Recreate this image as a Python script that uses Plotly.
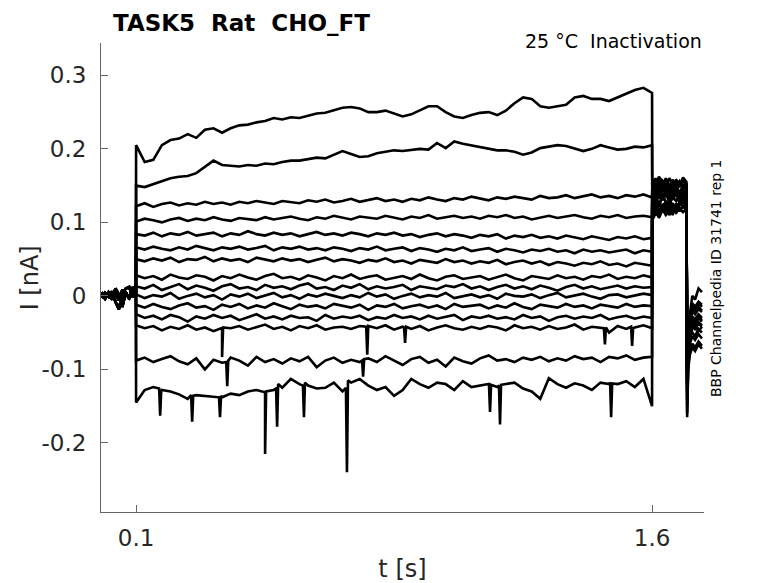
import numpy as np
import plotly.graph_objects as go

# time grids [s]
t_hold = [0.0, 0.01, 0.02, 0.03, 0.04, 0.05, 0.06, 0.07, 0.08, 0.09, 0.0995]
t_step = np.linspace(0.1, 1.6, 61)
t_after = [1.6005, 1.61, 1.62, 1.63, 1.64, 1.65, 1.66, 1.67, 1.68, 1.69, 1.70,
           1.702, 1.705, 1.71, 1.717, 1.725, 1.735, 1.745]

# holding current before the step [pA]
hold_a = [2, -4, 5, -2, 3, -6, 8, 2, -3, 6, 4]
hold_b = [-3, 4, -1, 6, -8, -18, 3, 10, 12, -2, 8]
hold_c = [5, -2, 1, -5, 10, 2, -15, 5, -4, 12, 3]

# currents during the step [pA], one list per sweep
step_a = [205, 182, 185, 205, 212, 214, 220, 215, 226, 228, 222, 228, 232, 233, 236, 238, 242, 240, 243, 242,
          245, 248, 249, 252, 256, 257, 255, 250, 250, 252, 248, 244, 247, 252, 258, 258, 250, 244, 242, 246,
          249, 250, 246, 252, 262, 270, 268, 258, 256, 258, 260, 270, 272, 268, 268, 265, 270, 274, 280, 283, 276]
step_b = [150, 148, 152, 155, 160, 162, 163, 167, 175, 184, 178, 177, 176, 178, 177, 180, 179, 182, 184, 184,
          186, 188, 187, 192, 197, 193, 189, 190, 194, 196, 198, 197, 198, 200, 199, 208, 201, 210, 207, 205,
          203, 200, 198, 198, 196, 192, 195, 201, 203, 205, 204, 200, 197, 200, 205, 202, 199, 200, 203, 202, 205]
step_c = [122, 126, 121, 125, 127, 123, 126, 124, 128, 125, 127, 124, 128, 126, 129, 127, 125, 129, 128, 126,
          130, 128, 131, 127, 129, 132, 128, 130, 133, 129, 131, 128, 132, 130, 134, 131, 129, 133, 131, 135,
          132, 130, 134, 132, 135, 133, 131, 136, 133, 134, 137, 133, 135, 138, 134, 136, 133, 137, 135, 138, 134]
step_d = [101, 105, 103, 100, 104, 106, 102, 105, 103, 107, 104, 102, 106, 105, 103, 107, 104, 106, 108, 105,
          103, 107, 105, 109, 106, 104, 108, 106, 105, 109, 107, 104, 108, 106, 110, 105, 107, 109, 106, 108,
          105, 109, 107, 110, 106, 108, 104, 107, 109, 106, 108, 110, 107, 105, 109, 107, 110, 106, 108, 109, 107]
step_e = [84, 82, 86, 81, 85, 83, 87, 82, 84, 86, 81, 85, 83, 88, 84, 82, 86, 83, 85, 81,
          84, 87, 83, 85, 82, 86, 84, 81, 85, 83, 86, 82, 84, 80, 83, 85, 81, 84, 82, 79,
          83, 81, 84, 78, 82, 80, 83, 79, 81, 78, 82, 80, 77, 81, 79, 76, 80, 78, 81, 77, 79]
step_f = [66, 63, 67, 64, 62, 66, 63, 68, 65, 62, 66, 64, 67, 63, 65, 68, 62, 66, 64, 67,
          63, 65, 62, 66, 64, 61, 65, 63, 67, 62, 64, 66, 61, 65, 63, 60, 64, 62, 66, 61,
          63, 65, 60, 64, 62, 59, 63, 61, 64, 60, 62, 58, 63, 60, 62, 59, 61, 63, 58, 62, 60]
step_g = [50, 47, 51, 48, 52, 46, 50, 49, 53, 47, 51, 48, 50, 46, 52, 49, 47, 51, 48, 50,
          46, 49, 52, 47, 50, 48, 45, 49, 47, 51, 46, 48, 44, 49, 47, 45, 50, 46, 48, 44,
          47, 45, 49, 43, 46, 48, 44, 47, 42, 46, 44, 41, 45, 43, 47, 42, 44, 40, 45, 43, 41]
step_h = [28, 24, 27, 22, 29, 25, 23, 28, 26, 21, 27, 24, 29, 25, 22, 27, 30, 24, 26, 22,
          28, 25, 21, 27, 24, 29, 23, 26, 28, 22, 25, 27, 23, 29, 24, 21, 26, 28, 23, 25,
          27, 22, 26, 29, 24, 21, 27, 25, 23, 28, 24, 26, 22, 27, 25, 29, 23, 26, 24, 28, 25]
step_i = [13, 10, 15, 8, 12, 16, 9, 14, 11, 7, 13, 16, 10, 12, 8, 15, 11, 13, 9, 14,
          17, 10, 12, 8, 14, 11, 16, 9, 13, 10, 12, 15, 8, 13, 11, 9, 14, 12, 16, 10,
          13, 8, 12, 15, 10, 13, 9, 14, 11, 7, 12, 15, 10, 13, 9, 12, 14, 10, 13, 11, 12]
step_j = [2, -3, 1, -1, 4, -4, 0, 3, -2, 1, -5, 2, -1, 3, -3, 0, 4, -2, 1, -4,
          2, -1, 3, 0, -3, 1, -2, 4, -1, 2, -4, 0, 3, -2, 1, -1, 4, -3, 0, 2,
          -2, 1, -4, 3, 0, -1, 2, -3, 1, 4, -2, 0, 3, -1, -4, 1, 2, -2, 0, 3, 1]
step_k = [-12, -16, -11, -15, -18, -13, -10, -16, -14, -19, -12, -15, -11, -17, -13, -16, -10, -14, -18, -12,
          -15, -13, -17, -11, -14, -16, -12, -19, -13, -15, -11, -17, -14, -12, -16, -13, -18, -11, -15, -14,
          -12, -17, -13, -16, -10, -15, -18, -12, -14, -16, -11, -15, -13, -17, -12, -14, -16, -11, -15, -13, -14]
step_l = [-25, -30, -27, -32, -26, -29, -35, -28, -31, -26, -30, -27, -33, -29, -25, -31, -28, -32, -27, -30,
          -29, -34, -26, -31, -28, -30, -27, -33, -29, -31, -26, -30, -28, -32, -27, -31, -29, -26, -33, -28,
          -30, -27, -31, -29, -32, -26, -30, -28, -34, -29, -27, -31, -28, -30, -26, -32, -29, -27, -31, -28, -30]
step_m = [-40, -44, -41, -47, -42, -45, -40, -46, -43, -48, -44, -44, -41, -46, -43, -39, -45, -42, -47, -41,
          -44, -40, -46, -43, -42, -45, -41, -42, -44, -40, -46, -42, -45, -41, -47, -43, -40, -44, -46, -42,
          -45, -41, -43, -47, -40, -44, -42, -46, -41, -45, -43, -39, -46, -42, -44, -50, -41, -45, -43, -40, -44]
step_n = [-88, -84, -90, -86, -82, -89, -93, -85, -100, -87, -91, -84, -88, -95, -83, -90, -86, -92, -85, -89,
          -83, -97, -88, -84, -91, -87, -90, -85, -90, -82, -88, -94, -86, -83, -91, -87, -96, -84, -89, -92,
          -85, -81, -88, -86, -90, -84, -87, -83, -89, -85, -88, -82, -86, -84, -90, -83, -85, -81, -87, -84, -83]
step_o = [-145, -128, -124, -128, -130, -134, -140, -135, -136, -138, -138, -133, -135, -130, -128, -131, -128, -125, -113, -120,
          -122, -126, -125, -118, -130, -118, -113, -122, -128, -124, -136, -128, -113, -120, -125, -118, -120, -128, -116, -124,
          -122, -120, -124, -120, -118, -126, -130, -140, -112, -120, -125, -119, -122, -128, -118, -120, -120, -116, -124, -113, -150]

# short downward spikes during the step: times [s] and currents [pA]
spike_t_m = [0.347, 0.35, 0.353, 0.769, 0.772, 0.775, 0.879, 0.882, 0.885, 1.46, 1.463, 1.466, 1.539, 1.542, 1.545]
spike_i_m = [-44, -83, -43, -42, -80, -41, -43, -64, -42, -44, -66, -43, -42, -68, -44]
spike_t_n = [0.362, 0.365, 0.368, 0.757, 0.76, 0.763]
spike_i_n = [-90, -123, -88, -88, -110, -86]
spike_t_o = [0.167, 0.17, 0.173, 0.26, 0.263, 0.266, 0.341, 0.344, 0.347, 0.472, 0.475, 0.478,
             0.507, 0.51, 0.513, 0.585, 0.588, 0.591, 0.71, 0.713, 0.716, 1.126, 1.129, 1.132,
             1.155, 1.158, 1.161, 1.478, 1.481, 1.484]
spike_i_o = [-126, -163, -130, -135, -171, -136, -138, -165, -136, -131, -215, -130,
             -126, -178, -120, -122, -165, -118, -125, -240, -115, -122, -158, -121,
             -122, -175, -121, -118, -165, -119]

# tail after the step and the return to holding [pA]
after_a = [158, 150, 162, 154, 148, 160, 152, 157, 149, 161, 155, -165, -92, -60, -45, -40, -48, -42]
after_b = [150, 160, 146, 157, 152, 144, 158, 150, 156, 147, 153, -140, -82, -50, -30, -35, -28, -33]
after_c = [140, 133, 146, 136, 142, 131, 145, 138, 134, 143, 137, -120, -72, -40, -20, -25, -18, -22]
after_d = [128, 138, 124, 135, 140, 127, 133, 141, 126, 136, 131, -110, -62, -30, -10, -15, -8, -12]
after_e = [106, 118, 112, 124, 115, 121, 110, 126, 118, 122, 116, -100, -55, -25, 0, -5, 10, 5]
after_f = [120, 128, 115, 125, 118, 130, 122, 116, 127, 121, 124, -95, -50, -30, -15, -20, -10, -15]
after_g = [103, 112, 108, 118, 110, 115, 121, 113, 119, 114, 118, -90, -60, -45, -35, -40, -30, -35]
after_h = [112, 120, 106, 117, 124, 110, 118, 125, 115, 122, 119, -88, -65, -55, -50, -55, -45, -50]
after_i = [145, 138, 152, 141, 148, 136, 150, 143, 139, 151, 146, -130, -75, -55, -40, -45, -38, -42]
after_j = [135, 128, 141, 130, 137, 144, 131, 139, 134, 128, 138, -115, -66, -45, -28, -32, -25, -30]
after_k = [126, 133, 121, 137, 128, 124, 135, 129, 138, 125, 132, -105, -60, -35, -20, -24, -15, -20]
after_l = [116, 125, 111, 122, 128, 119, 126, 113, 124, 130, 121, -100, -70, -50, -40, -44, -36, -40]
after_m = [138, 146, 132, 149, 140, 153, 136, 148, 142, 135, 147, -125, -85, -65, -55, -60, -52, -58]
after_n = [155, 145, 157, 148, 160, 151, 146, 158, 150, 156, 152, -150, -95, -75, -65, -70, -62, -68]
after_o = [142, 151, 138, 155, 144, 149, 157, 140, 153, 145, 150, -160, -100, -80, -70, -75, -66, -72]

sweeps = [
    (hold_a, step_a, after_a, [], []), (hold_b, step_b, after_b, [], []),
    (hold_c, step_c, after_c, [], []), (hold_a, step_d, after_d, [], []),
    (hold_b, step_e, after_e, [], []), (hold_c, step_f, after_f, [], []),
    (hold_a, step_g, after_g, [], []), (hold_b, step_h, after_h, [], []),
    (hold_c, step_i, after_i, [], []), (hold_a, step_j, after_j, [], []),
    (hold_b, step_k, after_k, [], []), (hold_c, step_l, after_l, [], []),
    (hold_a, step_m, after_m, spike_t_m, spike_i_m),
    (hold_b, step_n, after_n, spike_t_n, spike_i_n),
    (hold_c, step_o, after_o, spike_t_o, spike_i_o),
]

fig = go.Figure()
for hold, step, after, sp_t, sp_i in sweeps:
    t = np.concatenate([t_hold, t_step, sp_t, t_after])
    i_pa = np.concatenate([hold, step, sp_i, after])
    order = np.argsort(t, kind='stable')
    fig.add_trace(go.Scatter(x=t[order], y=i_pa[order] / 1000.0, mode='lines',
                             line=dict(color='black', width=2.6),
                             showlegend=False, hoverinfo='skip'))

# the page body adds an 8 px offset, so the figure is a bit smaller
axis_color = '#666666'
fig.update_layout(
    width=770, height=575,
    margin=dict(l=93, r=74, t=35, b=71, autoexpand=False),
    paper_bgcolor='white', plot_bgcolor='white',
    font=dict(family='DejaVu Sans', color='#262626'),
    xaxis=dict(range=[-0.002, 1.751], tickvals=[0.1, 1.6], ticktext=['0.1', '1.6'],
               ticks='inside', ticklen=7, tickcolor=axis_color, automargin=False,
               ticklabelstandoff=5,
               showline=True, linecolor=axis_color, linewidth=1,
               showgrid=False, zeroline=False, tickfont=dict(size=23),
               title=dict(text='t [s]', font=dict(size=24), standoff=10)),
    yaxis=dict(range=[-0.294, 0.344], tickvals=[-0.2, -0.1, 0, 0.1, 0.2, 0.3],
               ticktext=['-0.2', '-0.1', '0', '0.1', '0.2', '0.3'],
               ticks='inside', ticklen=7, tickcolor=axis_color, automargin=False,
               ticklabelstandoff=9,
               showline=True, linecolor=axis_color, linewidth=1,
               showgrid=False, zeroline=False, tickfont=dict(size=23)),
)

fig.add_annotation(text='I [nA]', xref='paper', yref='paper',
                   x=-0.118, y=0.5, xanchor='center', yanchor='middle', showarrow=False,
                   textangle=-90, font=dict(size=24, color='#262626'))
fig.add_annotation(text='<b>TASK5\u00a0 Rat\u00a0 CHO_FT</b>', xref='paper', yref='paper',
                   x=0.019, y=1.0426, xanchor='left', yanchor='middle', showarrow=False,
                   borderpad=0, font=dict(size=23, color='black'))
fig.add_annotation(text='25 °C\u00a0 Inactivation', xref='paper', yref='paper',
                   x=1.0, y=1.004, xanchor='right', yanchor='middle', showarrow=False,
                   font=dict(size=19, color='black'))
fig.add_annotation(text='BBP Channelpedia ID 31741 rep 1', xref='paper', yref='paper',
                   x=1.02, y=0.499, xanchor='center', yanchor='middle', showarrow=False,
                   textangle=-90, font=dict(size=14, color='black'))

fig.write_html('out.html')
